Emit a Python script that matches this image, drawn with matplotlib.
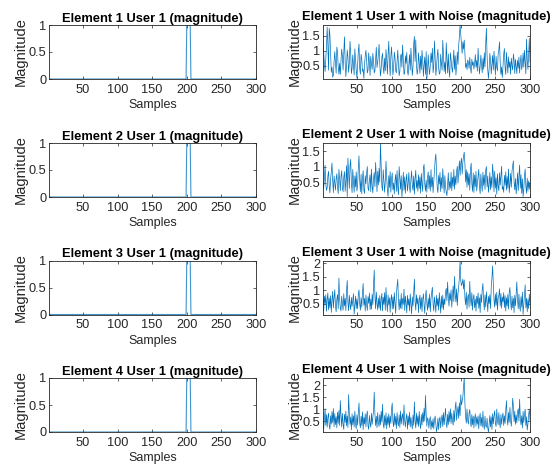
import matplotlib
matplotlib.use("Agg")
import matplotlib.pyplot as plt
from matplotlib.ticker import FuncFormatter

samples = list(range(1, 301))

# clean pulse (magnitude) for each element
clean_pulse = [0.0] * 199 + [1.0] * 6 + [0.0] * 95

noise_e1 = [
    1.35, 0.92, 0.55, 0.31, 0.72, 1.12, 1.78, 1.21, 0.35, 1.74, 1.52, 0.86, 0.28, 0.45, 0.12, 0.18, 0.63, 0.97, 0.61, 0.25,
    1.12, 0.94, 0.45, 0.22, 0.58, 0.21, 0.67, 1.05, 0.82, 0.36, 0.88, 1.46, 0.63, 0.14, 0.48, 1.02, 0.79, 0.28, 0.57, 1.31,
    0.92, 0.24, 0.41, 0.86, 0.53, 0.19, 1.06, 0.68, 0.35, 0.09, 0.54, 0.97, 1.22, 0.41, 0.22, 0.88, 0.73, 0.31, 0.39, 0.08,
    0.52, 0.84, 1.01, 0.67, 0.26, 0.35, 0.93, 0.62, 0.18, 0.81, 0.55, 0.38, 0.91, 0.67, 0.26, 0.33, 0.72, 1.11, 0.44, 0.62,
    0.88, 1.21, 0.57, 0.16, 0.39, 0.78, 0.91, 0.44, 0.24, 0.75, 0.33, 1.04, 0.69, 0.22, 0.86, 1.31, 0.58, 0.17, 0.82, 1.12,
    0.63, 0.19, 0.41, 0.95, 0.78, 0.34, 0.26, 0.66, 1.02, 0.54, 0.17, 0.31, 0.82, 0.89, 0.45, 1.19, 0.72, 0.21, 0.26, 0.83,
    0.58, 0.94, 0.31, 0.19, 0.52, 0.87, 0.35, 1.08, 0.63, 0.18, 0.46, 1.22, 1.47, 0.64, 1.36, 0.52, 0.21, 0.39, 0.93, 0.61,
    0.25, 0.82, 0.37, 1.01, 0.68, 0.15, 0.54, 0.79, 0.21, 0.97, 0.06, 0.35, 0.86, 0.42, 0.21, 0.53, 0.92, 0.61, 1.08, 0.27,
    0.49, 1.32, 0.76, 0.18, 0.44, 0.83, 1.05, 0.44, 0.22, 0.27, 0.88, 0.59, 0.35, 1.34, 0.87, 0.31, 0.62, 0.23, 1.26, 0.71,
    0.26, 0.89, 0.35, 0.12, 0.93, 0.71, 0.44, 0.28, 0.67, 1.02, 0.38, 0.83, 0.19, 0.51, 0.96, 0.54, 1.18, 1.46, 1.85, 1.52,
    1.18, 0.91, 1.29, 1.05, 1.35, 0.92, 0.44, 0.58, 0.37, 0.69, 0.62, 0.41, 0.78, 0.44, 0.25, 0.72, 0.51, 0.63, 0.39, 0.58,
    0.87, 0.45, 0.68, 0.32, 1.08, 0.61, 0.23, 0.49, 0.85, 0.52, 0.27, 0.74, 0.38, 0.93, 0.46, 1.21, 1.74, 0.82, 0.35, 0.08,
    0.42, 0.91, 0.67, 0.23, 0.55, 0.84, 0.36, 0.98, 0.62, 0.19, 0.81, 0.44, 0.33, 0.88, 1.04, 1.29, 0.57, 0.21, 0.46, 0.11,
    0.52, 0.88, 1.07, 0.45, 0.21, 0.94, 0.58, 0.26, 0.79, 0.44, 0.63, 0.22, 0.75, 0.51, 0.36, 0.89, 0.68, 0.24, 0.71, 0.47,
    0.24, 0.68, 0.42, 0.79, 0.26, 0.61, 0.85, 0.37, 0.53, 0.92, 0.45, 1.01, 0.64, 0.23, 1.38, 0.71, 0.38, 0.84, 1.41, 0.62,
]

noise_e2 = [
    0.52, 0.31, 0.63, 1.05, 0.48, 0.25, 0.33, 0.71, 0.86, 0.38, 0.17, 0.62, 0.85, 1.12, 0.54, 0.18, 0.71, 0.49, 0.26, 0.62,
    0.78, 0.34, 0.15, 0.92, 0.61, 0.24, 0.69, 0.88, 0.33, 0.21, 0.67, 0.85, 0.22, 0.56, 1.04, 0.05, 1.28, 0.83, 0.31, 1.02,
    1.24, 0.47, 0.18, 0.92, 0.55, 0.19, 0.71, 0.36, 0.84, 0.23, 0.42, 0.97, 1.35, 0.58, 0.21, 0.76, 0.14, 0.63, 0.88, 0.27,
    0.15, 0.72, 0.46, 0.81, 1.01, 0.32, 0.24, 0.59, 0.75, 0.21, 0.93, 0.38, 0.17, 0.65, 0.82, 0.37, 1.14, 0.72, 0.21, 0.86,
    0.43, 0.95, 0.52, 1.76, 1.02, 0.38, 0.24, 0.91, 0.57, 0.19, 0.56, 1.18, 0.65, 0.28, 0.06, 0.72, 0.34, 0.85, 0.19, 0.63,
    0.81, 0.27, 0.49, 0.14, 0.58, 0.76, 0.22, 0.88, 0.35, 0.11, 1.01, 0.64, 0.29, 0.72, 0.04, 0.37, 0.83, 0.25, 0.68, 0.16,
    0.59, 0.77, 0.23, 0.46, 0.82, 0.34, 0.18, 0.61, 0.87, 0.41, 0.25, 0.71, 0.13, 0.64, 0.89, 0.32, 0.57, 0.22, 0.75, 0.31,
    0.68, 0.16, 0.79, 0.44, 0.22, 0.97, 1.08, 0.45, 0.23, 0.58, 0.19, 0.66, 0.84, 0.31, 0.72, 0.23, 0.91, 0.36, 0.67, 0.18,
    0.54, 0.88, 1.22, 1.41, 0.85, 0.32, 0.18, 0.73, 0.45, 0.82, 0.21, 0.66, 0.31, 0.94, 0.58, 0.17, 0.72, 0.37, 0.19, 0.08,
    0.45, 0.81, 0.26, 0.54, 0.32, 0.83, 0.24, 0.67, 0.38, 0.92, 0.29, 0.71, 0.43, 0.86, 1.02, 0.48, 0.81, 1.19, 0.73, 1.12,
    1.28, 0.77, 1.15, 1.34, 1.47, 1.08, 0.52, 0.91, 0.35, 0.84, 0.42, 0.78, 0.26, 0.93, 1.12, 0.47, 0.22, 0.81, 0.18, 0.74,
    0.37, 0.86, 0.23, 0.49, 0.71, 0.92, 0.34, 0.15, 0.77, 0.45, 0.22, 0.83, 0.41, 0.74, 0.28, 0.89, 1.01, 0.36, 0.71, 0.19,
    0.43, 0.82, 0.27, 0.68, 0.34, 1.09, 0.73, 0.21, 0.86, 0.32, 0.65, 0.13, 0.78, 0.39, 0.24, 0.81, 0.42, 0.71, 1.02, 0.28,
    0.37, 0.19, 0.73, 0.41, 0.84, 0.26, 0.69, 0.32, 0.93, 0.18, 0.44, 0.79, 0.35, 0.86, 1.04, 1.19, 0.52, 0.27, 0.63, 0.14,
    0.38, 0.81, 0.24, 0.69, 1.06, 0.32, 0.75, 0.16, 0.62, 0.05, 0.28, 0.71, 0.93, 0.37, 0.16, 0.64, 0.23, 0.55, 0.29, 0.52,
]

noise_e3 = [
    0.62, 0.25, 0.78, 0.51, 0.84, 0.23, 0.67, 0.91, 0.28, 0.72, 0.35, 0.81, 0.19, 0.64, 0.97, 0.36, 0.73, 1.03, 0.42, 0.21,
    0.68, 0.85, 0.32, 1.46, 0.71, 0.36, 0.24, 0.79, 0.52, 0.27, 0.88, 0.43, 0.71, 0.26, 1.01, 1.37, 0.54, 0.25, 0.82, 0.48,
    0.29, 0.74, 0.41, 0.66, 0.88, 0.12, 0.47, 0.79, 0.33, 0.69, 0.32, 0.85, 1.02, 0.51, 0.27, 0.73, 0.38, 0.92, 1.26, 0.45,
    0.71, 0.24, 0.83, 0.48, 0.26, 0.77, 0.52, 0.91, 0.29, 0.68, 0.31, 0.86, 0.47, 1.22, 1.76, 0.79, 0.32, 0.94, 0.53, 0.28,
    0.72, 0.35, 0.81, 0.26, 0.67, 0.89, 0.24, 0.75, 0.48, 0.92, 0.27, 1.11, 0.59, 0.22, 0.83, 0.46, 0.73, 0.19, 0.64, 0.85,
    0.31, 0.76, 0.33, 0.92, 0.52, 0.15, 0.84, 1.18, 1.41, 0.63, 0.28, 0.67, 0.34, 0.89, 0.32, 0.71, 0.48, 1.05, 0.26, 0.79,
    0.53, 0.17, 0.82, 0.45, 0.69, 0.24, 0.87, 0.51, 0.13, 0.76, 0.42, 0.91, 1.42, 0.58, 0.27, 0.84, 0.49, 0.72, 0.18, 0.65,
    0.83, 0.31, 0.74, 0.22, 0.66, 0.88, 0.47, 0.15, 0.79, 1.01, 0.52, 0.26, 0.71, 0.35, 0.87, 0.21, 0.68, 0.93, 1.12, 0.48,
    0.24, 0.76, 0.51, 0.19, 0.82, 0.43, 0.71, 0.27, 0.92, 0.54, 0.16, 0.78, 0.35, 0.83, 0.29, 0.69, 0.48, 0.94, 1.08, 0.62,
    1.31, 0.75, 0.42, 0.91, 0.64, 1.02, 0.38, 0.83, 1.17, 0.59, 1.52, 0.85, 0.58, 1.06, 0.44, 0.88, 1.13, 1.48, 2.11, 1.36,
    1.18, 1.27, 1.42, 1.05, 1.39, 0.72, 0.47, 0.93, 0.31, 0.74, 0.86, 0.38, 1.34, 0.69, 0.43, 0.92, 0.27, 0.71, 0.85, 0.36,
    0.68, 0.23, 0.79, 0.52, 0.91, 0.34, 0.73, 0.18, 0.86, 0.55, 1.04, 1.26, 0.61, 0.28, 0.83, 0.39, 0.95, 0.57, 0.22, 0.78,
    0.51, 0.84, 0.33, 1.12, 1.46, 1.91, 1.22, 0.64, 0.38, 0.87, 0.45, 0.93, 0.27, 0.72, 0.81, 1.06, 0.42, 0.89, 0.34, 0.76,
    0.58, 0.92, 0.37, 0.81, 0.24, 0.73, 0.42, 0.85, 0.31, 0.94, 1.11, 0.57, 0.28, 0.79, 0.36, 0.71, 0.18, 0.82, 0.43, 0.91,
    1.32, 0.64, 0.32, 0.86, 0.41, 0.23, 0.77, 0.38, 0.94, 0.11, 0.45, 0.83, 1.21, 0.36, 0.72, 0.21, 0.68, 0.33, 0.87, 0.52,
]

noise_e4 = [
    0.71, 0.18, 0.62, 1.02, 0.33, 0.78, 0.25, 0.66, 0.84, 0.32, 0.17, 0.73, 0.38, 0.91, 0.44, 1.03, 0.27, 0.82, 0.36, 0.69,
    0.23, 0.88, 0.41, 0.95, 0.32, 1.36, 0.74, 0.27, 0.83, 0.38, 0.16, 0.79, 0.45, 0.92, 0.31, 0.72, 0.24, 1.62, 0.86, 0.37,
    0.68, 0.14, 0.81, 0.35, 0.73, 0.26, 0.92, 0.41, 0.18, 0.77, 0.34, 0.86, 1.27, 0.43, 0.22, 0.71, 0.32, 0.89, 0.15, 0.67,
    0.38, 0.81, 0.26, 0.72, 0.93, 0.31, 0.16, 0.74, 0.42, 0.25, 0.83, 0.37, 0.68, 0.94, 1.72, 0.79, 0.32, 0.71, 0.23, 0.86,
    0.43, 0.28, 0.77, 0.35, 0.92, 0.47, 1.21, 0.39, 0.21, 0.74, 0.33, 0.85, 0.18, 0.69, 0.36, 0.81, 0.24, 0.72, 0.41, 1.02,
    1.26, 0.48, 0.27, 0.83, 0.35, 0.71, 0.19, 0.86, 0.42, 0.31, 0.77, 0.24, 0.93, 0.38, 0.69, 0.82, 0.33, 1.19, 0.52, 0.26,
    0.64, 0.81, 0.17, 0.72, 0.35, 0.88, 0.26, 0.67, 0.39, 0.18, 0.76, 0.33, 1.31, 0.49, 0.22, 0.84, 0.37, 0.73, 0.28, 0.91,
    0.42, 0.19, 0.78, 0.34, 0.86, 0.47, 1.04, 0.51, 1.58, 0.82, 0.29, 0.65, 0.53, 0.21, 0.58, 0.69, 0.15, 0.52, 0.24, 0.61,
    0.18, 0.57, 0.72, 0.41, 0.06, 0.26, 0.63, 0.15, 0.54, 0.68, 0.22, 0.59, 0.77, 0.28, 0.86, 0.35, 0.71, 1.04, 0.42, 0.23,
    0.79, 0.36, 0.91, 0.47, 1.02, 0.41, 0.84, 0.52, 0.33, 0.95, 0.48, 1.08, 1.31, 0.54, 0.89, 1.12, 0.62, 1.27, 0.73, 1.61,
    1.18, 1.33, 1.52, 1.96, 2.31, 1.24, 0.67, 0.42, 1.01, 0.54, 0.38, 0.83, 0.99, 0.46, 0.27, 0.78, 0.35, 0.71, 0.22, 0.63,
    0.81, 0.29, 0.68, 0.37, 0.73, 0.18, 0.62, 0.84, 0.31, 0.66, 0.25, 0.92, 0.38, 0.16, 0.71, 0.32, 0.24, 0.63, 0.21, 0.05,
    0.37, 0.74, 0.26, 0.68, 0.15, 0.82, 0.39, 0.73, 0.94, 0.41, 0.28, 1.01, 0.52, 0.35, 0.86, 0.44, 0.23, 0.78, 0.37, 0.69,
    0.84, 0.32, 0.73, 0.41, 0.95, 1.36, 0.58, 0.34, 0.87, 0.46, 1.08, 0.52, 0.29, 0.83, 1.46, 1.12, 0.48, 0.92, 0.37, 0.76,
    0.43, 0.89, 1.02, 0.51, 1.42, 0.64, 0.35, 0.73, 0.22, 0.91, 0.44, 0.78, 1.01, 0.32, 0.69, 0.13, 0.38, 0.76, 1.01, 0.54,
]

noise_series = [noise_e1, noise_e2, noise_e3, noise_e4]
clean_titles = [f"Element {i} User 1 (magnitude)" for i in range(1, 5)]
noise_titles = [f"Element {i} User 1 with Noise (magnitude)" for i in range(1, 5)]
x_ticks = [50, 100, 150, 200, 250, 300]
clean_yticks = [0, 0.5, 1]
noise_yticks = [[0.5, 1, 1.5], [0.5, 1, 1.5], [0.5, 1, 1.5, 2], [0.5, 1, 1.5, 2]]

plt.rcParams['font.family'] = ['Liberation Sans', 'DejaVu Sans']

W, H = 559, 475
fig = plt.figure(figsize=(W / 100, H / 100), dpi=100)
fig.patch.set_facecolor('white')

line_color = '#0072BD'
axis_color = '#262626'
tops = [25, 143, 260.5, 378]
ax_h = 54
lefts = [49, 323]
ax_w = 207

fmt = FuncFormatter(lambda v, p: f"{v:g}")


def style(ax):
    for s in ax.spines.values():
        s.set_color(axis_color)
        s.set_linewidth(0.6)
    ax.tick_params(direction='in', length=2.5, width=0.5, colors=axis_color,
                   labelsize=9.2, top=True, right=True)
    ax.tick_params(axis='x', pad=3.5)
    ax.tick_params(axis='y', pad=2)
    ax.set_xticks(x_ticks)
    ax.set_xlim(1, 300)
    ax.yaxis.set_major_formatter(fmt)
    ax.set_xlabel("Samples", fontsize=9.0, color=axis_color, labelpad=2.5)
    ax.set_ylabel("Magnitude", fontsize=10.5, color=axis_color, labelpad=0.5)


for r in range(4):
    for c in range(2):
        x0 = lefts[c] / W
        y0 = 1 - (tops[r] + ax_h) / H
        ax = fig.add_axes([x0, y0, ax_w / W, ax_h / H])
        if c == 0:
            ax.plot(samples, clean_pulse, color=line_color, lw=0.8, alpha=0.75)
            ax.set_ylim(0, 1)
            ax.set_yticks(clean_yticks)
            ax.set_title(clean_titles[r], fontsize=9.3, fontweight='bold', pad=2.5)
        else:
            d = noise_series[r]
            ax.plot(samples, d, color=line_color, lw=0.5)
            ax.set_ylim(min(d), max(d))
            ax.set_yticks(noise_yticks[r])
            ax.set_title(noise_titles[r], fontsize=9.3, fontweight='bold', pad=3.5)
        style(ax)

fig.savefig("out.png", dpi=100, facecolor='white')
